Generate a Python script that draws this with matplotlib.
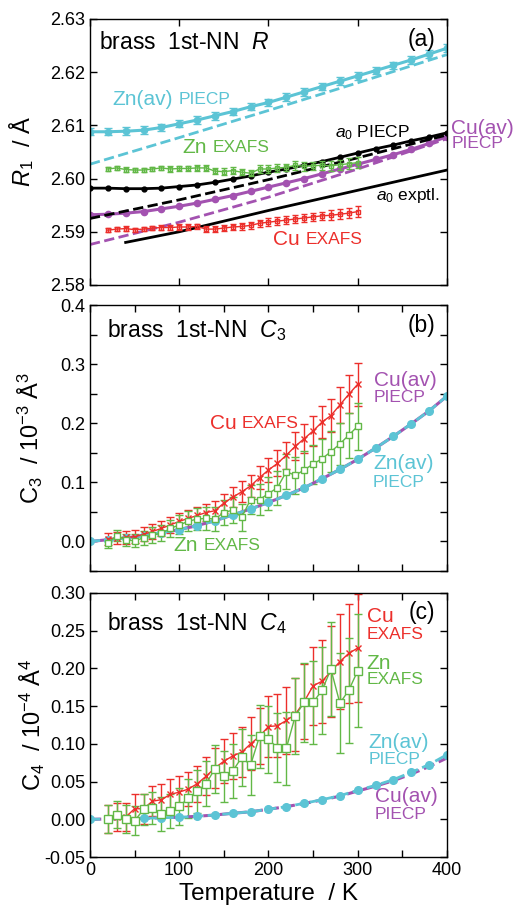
import numpy as np
import matplotlib.pyplot as plt
from matplotlib.ticker import MultipleLocator

plt.rcParams['font.family'] = 'Liberation Sans'
plt.rcParams['mathtext.fontset'] = 'custom'
plt.rcParams['mathtext.rm'] = 'Liberation Sans'
plt.rcParams['mathtext.it'] = 'Liberation Sans:italic'

CYAN = '#5cc4d5'
PURPLE = '#a352b0'
GREEN = '#62b847'
RED = '#ec2f2b'

# temperatures
T_calc = [0, 20, 40, 60, 80, 100, 120, 140, 160, 180, 200,
          220, 240, 260, 280, 300, 320, 340, 360, 380, 400]
T_exp = [20, 30, 40, 50, 60, 70, 80, 90, 100, 110, 120, 130, 140, 150, 160,
         170, 180, 190, 200, 210, 220, 230, 240, 250, 260, 270, 280, 290, 300]
T_line = [0, 100, 200, 300, 400]
T_a0_exp = [40, 100, 200, 300, 400]

# (a) 1st-NN distance R
zn_av_r = [2.6088, 2.6088, 2.6089, 2.6091, 2.6096, 2.6103, 2.6110, 2.6118, 2.6126, 2.6135, 2.6143,
           2.6153, 2.6163, 2.6173, 2.6183, 2.6193, 2.6203, 2.6213, 2.6223, 2.6234, 2.6245]
zn_av_r_err = 0.0007
zn_av_r_dash = [2.6027, 2.6077, 2.6128, 2.6180, 2.6233]
cu_av_r = [2.5932, 2.5933, 2.5935, 2.5938, 2.5943, 2.5948, 2.5954, 2.5961, 2.5968, 2.5976, 2.5984,
           2.5992, 2.6000, 2.6009, 2.6018, 2.6027, 2.6036, 2.6045, 2.6055, 2.6066, 2.6079]
cu_av_r_dash = [2.5876, 2.5918, 2.5965, 2.6018, 2.6075]
a0_piecp = [2.5982, 2.5982, 2.5981, 2.5981, 2.5982, 2.5985, 2.5988, 2.5993, 2.5999, 2.6005, 2.6012,
            2.6018, 2.6025, 2.6032, 2.6040, 2.6048, 2.6056, 2.6063, 2.6071, 2.6078, 2.6086]
a0_piecp_dash = [2.5925, 2.5960, 2.5998, 2.6039, 2.6082]
a0_exptl = [2.5880, 2.5900, 2.5940, 2.5978, 2.6016]
zn_exafs_r = [2.6018, 2.6020, 2.6017, 2.6016, 2.6016, 2.6018, 2.6020, 2.6018, 2.6019, 2.6019,
              2.6020, 2.6020, 2.6014, 2.6013, 2.6015, 2.6012, 2.6010, 2.6018, 2.6018, 2.6020,
              2.6021, 2.6025, 2.6023, 2.6024, 2.6025, 2.6024, 2.6026, 2.6028, 2.6030]
zn_exafs_r_err = [0.0004, 0.0004, 0.0004, 0.0004, 0.0004, 0.0004, 0.0004, 0.0005, 0.0005, 0.0005,
                  0.0005, 0.0005, 0.0006, 0.0006, 0.0006, 0.0006, 0.0006, 0.0007, 0.0007, 0.0007,
                  0.0007, 0.0008, 0.0008, 0.0008, 0.0008, 0.0009, 0.0009, 0.0010, 0.0010]
cu_exafs_r = [2.5903, 2.5905, 2.5906, 2.5904, 2.5905, 2.5907, 2.5908, 2.5908, 2.5909, 2.5909,
              2.5910, 2.5905, 2.5905, 2.5907, 2.5909, 2.5910, 2.5912, 2.5916, 2.5918, 2.5920,
              2.5922, 2.5924, 2.5926, 2.5928, 2.5930, 2.5931, 2.5933, 2.5935, 2.5938]
cu_exafs_r_err = [0.0004, 0.0004, 0.0004, 0.0004, 0.0004, 0.0004, 0.0005, 0.0005, 0.0005, 0.0005,
                  0.0005, 0.0005, 0.0006, 0.0006, 0.0006, 0.0006, 0.0006, 0.0007, 0.0007, 0.0007,
                  0.0007, 0.0008, 0.0008, 0.0008, 0.0008, 0.0009, 0.0009, 0.0010, 0.0011]

# (b) third cumulant C3 (10^-3 A^3)
piecp_c3 = [0.000, 0.003, 0.006, 0.010, 0.015, 0.020, 0.027, 0.035, 0.045, 0.055, 0.066,
            0.078, 0.091, 0.106, 0.122, 0.139, 0.158, 0.178, 0.199, 0.221, 0.246]
cu_exafs_c3 = [0.004, 0.006, 0.007, 0.008, 0.012, 0.017, 0.022, 0.028, 0.034, 0.039, 0.044,
               0.049, 0.052, 0.065, 0.075, 0.084, 0.094, 0.108, 0.121, 0.132, 0.146, 0.161,
               0.174, 0.187, 0.202, 0.213, 0.231, 0.249, 0.266]
cu_exafs_c3_err = [0.010, 0.010, 0.011, 0.011, 0.012, 0.012, 0.013, 0.013, 0.014, 0.014, 0.015,
                   0.015, 0.016, 0.016, 0.017, 0.018, 0.019, 0.020, 0.021, 0.022, 0.023, 0.024,
                   0.025, 0.026, 0.027, 0.028, 0.030, 0.032, 0.036]
zn_exafs_c3 = [-0.003, 0.010, 0.003, 0.001, 0.006, 0.011, 0.014, 0.022, 0.028, 0.034, 0.038,
               0.039, 0.038, 0.049, 0.053, 0.041, 0.071, 0.071, 0.081, 0.091, 0.118, 0.112,
               0.121, 0.131, 0.140, 0.152, 0.165, 0.180, 0.195]
zn_exafs_c3_err = [0.008, 0.009, 0.010, 0.011, 0.012, 0.013, 0.014, 0.015, 0.016, 0.017, 0.018,
                   0.019, 0.020, 0.021, 0.022, 0.023, 0.024, 0.026, 0.028, 0.029, 0.030, 0.031,
                   0.032, 0.033, 0.034, 0.035, 0.036, 0.038, 0.040]

# (c) fourth cumulant C4 (10^-4 A^4)
zn_av_c4 = [0.0000, 0.0004, 0.0010, 0.0013, 0.0020, 0.0027, 0.0040, 0.0057, 0.0080, 0.0100, 0.0133,
            0.0168, 0.0212, 0.0260, 0.0313, 0.0384, 0.0450, 0.0526, 0.0623, 0.0725, 0.0857]
cu_av_c4 = [0.0000, 0.0004, 0.0010, 0.0013, 0.0020, 0.0027, 0.0040, 0.0057, 0.0080, 0.0100, 0.0133,
            0.0168, 0.0210, 0.0256, 0.0307, 0.0375, 0.0440, 0.0512, 0.0600, 0.0700, 0.0813]
cu_exafs_c4 = [0.0005, 0.003, 0.003, 0.014, 0.014, 0.024, 0.026, 0.033, 0.036, 0.040, 0.047,
               0.057, 0.068, 0.077, 0.084, 0.089, 0.100, 0.110, 0.123, 0.124, 0.131, 0.139,
               0.156, 0.177, 0.183, 0.196, 0.209, 0.220, 0.227]
cu_exafs_c4_err = [0.018, 0.018, 0.019, 0.019, 0.020, 0.020, 0.021, 0.021, 0.022, 0.023, 0.024,
                   0.025, 0.027, 0.029, 0.031, 0.033, 0.035, 0.037, 0.040, 0.042, 0.045, 0.048,
                   0.050, 0.052, 0.055, 0.060, 0.063, 0.066, 0.072]
zn_exafs_c4 = [0.0005, 0.006, 0.0005, -0.002, 0.013, 0.015, 0.007, 0.011, 0.017, 0.028, 0.037,
               0.047, 0.067, 0.057, 0.064, 0.082, 0.072, 0.110, 0.106, 0.095, 0.094, 0.137,
               0.155, 0.155, 0.171, 0.199, 0.154, 0.171, 0.197]
zn_exafs_c4_err = [0.018, 0.018, 0.019, 0.019, 0.020, 0.021, 0.022, 0.023, 0.024, 0.026, 0.028,
                   0.030, 0.032, 0.034, 0.036, 0.038, 0.040, 0.042, 0.044, 0.046, 0.048, 0.050,
                   0.052, 0.055, 0.058, 0.062, 0.066, 0.070, 0.075]

BIG = 15
SMALL = 12.5


def beside(ax, x, y, big, small, color):
    # big word with a smaller word right after it on the same line
    t = ax.text(x, y, big, color=color, fontsize=BIG, va='center', clip_on=False)
    ax.annotate(small, xy=(1, y), xycoords=(t, 'data'), xytext=(4, 0),
                textcoords='offset points', color=color, fontsize=SMALL,
                va='center', annotation_clip=False)


def stacked(ax, x, y, y2, big, small, color):
    # big word with a smaller word on the line below
    ax.text(x, y, big, color=color, fontsize=BIG, va='center', clip_on=False)
    ax.text(x, y2, small, color=color, fontsize=SMALL, va='center', clip_on=False)


def style_axis(ax, ymajor, yminor=None):
    ax.set_xlim(0, 400)
    ax.xaxis.set_major_locator(MultipleLocator(100))
    ax.yaxis.set_major_locator(MultipleLocator(ymajor))
    if yminor:
        ax.yaxis.set_minor_locator(MultipleLocator(yminor))
    ax.tick_params(which='both', direction='in', top=True, right=True,
                   length=5, width=1, labelsize=13)
    for s in ax.spines.values():
        s.set_linewidth(1)


fig = plt.figure(figsize=(5.14, 9.07), dpi=100)
ax1 = fig.add_axes([0.175, 0.6858, 0.6946, 0.2933])
ax2 = fig.add_axes([0.175, 0.3704, 0.6946, 0.2933])
ax3 = fig.add_axes([0.175, 0.0551, 0.6946, 0.2911])

# ---- (a)
ax1.plot(T_line, zn_av_r_dash, '--', color=CYAN, lw=2)
ax1.errorbar(T_calc, zn_av_r, yerr=zn_av_r_err, color=CYAN, lw=2.2, marker='o', ms=4.5,
             elinewidth=1, capsize=3)
ax1.plot(T_line, cu_av_r_dash, '--', color=PURPLE, lw=2)
ax1.plot(T_calc, cu_av_r, '-o', color=PURPLE, lw=2.2, ms=4.5)
ax1.plot(T_line, a0_piecp_dash, '--', color='black', lw=2)
ax1.plot(T_calc, a0_piecp, '-o', color='black', lw=2, ms=3.5)
ax1.plot(T_a0_exp, a0_exptl, '-', color='black', lw=2)
ax1.errorbar(T_exp, zn_exafs_r, yerr=zn_exafs_r_err, color=GREEN, lw=1, marker='s', ms=3,
             mfc='none', elinewidth=1, capsize=2.5)
ax1.errorbar(T_exp, cu_exafs_r, yerr=cu_exafs_r_err, color=RED, lw=1, marker='s', ms=3,
             mfc='none', elinewidth=1, capsize=2.5)
ax1.set_ylim(2.58, 2.63)
style_axis(ax1, 0.01)
ax1.tick_params(labelbottom=False)
ax1.yaxis.set_major_formatter(plt.FormatStrFormatter('%.2f'))
ax1.set_ylabel('$R_1$  / Å', fontsize=17)
ax1.yaxis.set_label_coords(-0.15, 0.5)
ax1.text(10, 2.6255, 'brass  1st-NN  $R$', fontsize=16.5, va='center')
ax1.text(387, 2.6262, '(a)', fontsize=16.5, va='center', ha='right')
beside(ax1, 25, 2.6148, 'Zn(av)', 'PIECP', CYAN)
beside(ax1, 104, 2.6058, 'Zn', 'EXAFS', GREEN)
beside(ax1, 205, 2.5885, 'Cu', 'EXAFS', RED)
stacked(ax1, 405, 2.6095, 2.6066, 'Cu(av)', 'PIECP', PURPLE)
ax1.text(274, 2.6087, '$a_0$ PIECP', fontsize=12.5, va='center')
ax1.text(321, 2.5969, '$a_0$ exptl.', fontsize=12.5, va='center')

# ---- (b)
ax2.errorbar(T_exp, cu_exafs_c3, yerr=cu_exafs_c3_err, color=RED, lw=1, marker='x', ms=5,
             elinewidth=1, capsize=3)
ax2.errorbar(T_exp, zn_exafs_c3, yerr=zn_exafs_c3_err, color=GREEN, lw=1, marker='s', ms=5,
             mfc='white', elinewidth=1, capsize=3)
ax2.plot(T_calc, piecp_c3, '-', color=PURPLE, lw=2.2)
ax2.plot(T_calc, piecp_c3, '--o', color=CYAN, lw=2, ms=5.5)
ax2.set_ylim(-0.05, 0.4)
style_axis(ax2, 0.1, 0.05)
ax2.xaxis.set_minor_locator(MultipleLocator(50))
ax2.tick_params(labelbottom=False)
ax2.yaxis.set_major_formatter(plt.FormatStrFormatter('%.1f'))
ax2.set_ylabel('C$_3$  / 10$^{-3}$ Å$^3$', fontsize=17)
ax2.yaxis.set_label_coords(-0.125, 0.5)
ax2.text(19, 0.357, 'brass  1st-NN  $C_3$', fontsize=16.5, va='center')
ax2.text(387, 0.365, '(b)', fontsize=16.5, va='center', ha='right')
beside(ax2, 134, 0.200, 'Cu', 'EXAFS', RED)
stacked(ax2, 318, 0.272, 0.243, 'Cu(av)', 'PIECP', PURPLE)
stacked(ax2, 317, 0.132, 0.100, 'Zn(av)', 'PIECP', CYAN)
beside(ax2, 94, -0.007, 'Zn', 'EXAFS', GREEN)

# ---- (c)
ax3.errorbar(T_exp, cu_exafs_c4, yerr=cu_exafs_c4_err, color=RED, lw=1, marker='x', ms=5,
             elinewidth=1, capsize=3)
ax3.errorbar(T_exp, zn_exafs_c4, yerr=zn_exafs_c4_err, color=GREEN, lw=1, marker='s', ms=5.5,
             mfc='white', elinewidth=1, capsize=3)
ax3.plot(T_calc, cu_av_c4, '--', color=PURPLE, lw=2.2)
ax3.plot(T_calc, zn_av_c4, '--o', color=CYAN, lw=2, ms=5.5)
ax3.set_ylim(-0.05, 0.30)
style_axis(ax3, 0.05)
ax3.xaxis.set_minor_locator(MultipleLocator(50))
ax3.yaxis.set_major_formatter(plt.FormatStrFormatter('%.2f'))
ax3.set_ylabel('C$_4$  / 10$^{-4}$ Å$^4$', fontsize=17)
ax3.yaxis.set_label_coords(-0.12, 0.5)
ax3.set_xlabel('Temperature  / K', fontsize=17.5, labelpad=3)
ax3.text(19, 0.260, 'brass  1st-NN  $C_4$', fontsize=16.5, va='center')
ax3.text(387, 0.274, '(c)', fontsize=16.5, va='center', ha='right')
stacked(ax3, 310, 0.269, 0.245, 'Cu', 'EXAFS', RED)
stacked(ax3, 310, 0.207, 0.185, 'Zn', 'EXAFS', GREEN)
stacked(ax3, 312, 0.102, 0.079, 'Zn(av)', 'PIECP', CYAN)
stacked(ax3, 319, 0.030, 0.006, 'Cu(av)', 'PIECP', PURPLE)

fig.savefig('out.png', dpi=100)
